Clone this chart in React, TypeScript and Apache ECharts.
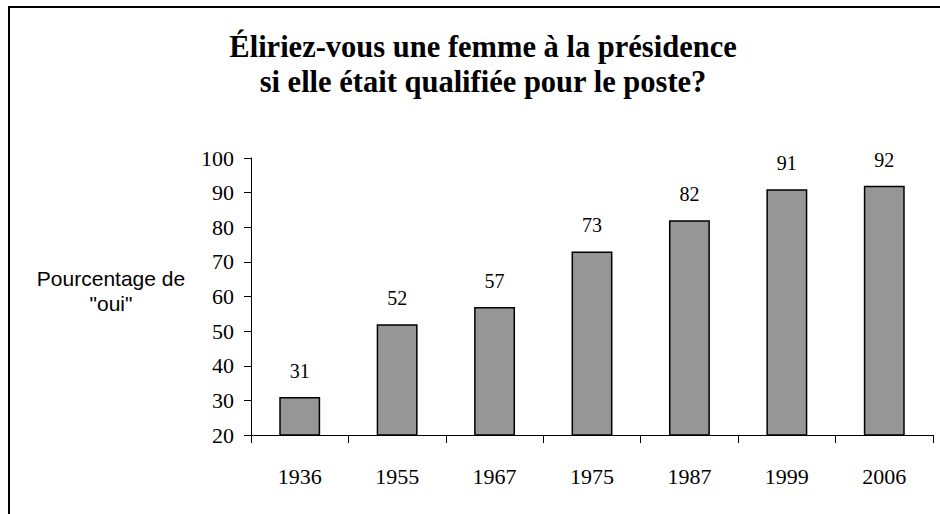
import React, { useEffect, useRef } from "react";
import * as echarts from "echarts";

const categories = ["1936", "1955", "1967", "1975", "1987", "1999", "2006"];
const values = [31, 52, 57, 73, 82, 91, 92];
const titleLines = ["Éliriez-vous une femme à la présidence", "si elle était qualifiée pour le poste?"];
const yAxisNameLines = ["Pourcentage de", "\"oui\""];

export default function App() {
  const ref = useRef<HTMLDivElement>(null);
  useEffect(() => {
    if (!ref.current) return;
    const chart = echarts.init(ref.current, null, { renderer: "svg" });
    const serif = "Times New Roman";
    const titleText = (t: string, y: number) => ({
      type: "text",
      x: 483,
      y,
      style: {
        text: t,
        fontFamily: serif,
        fontWeight: "bold",
        fontSize: 30.5,
        fill: "#000",
        align: "center",
        verticalAlign: "middle",
      },
    });
    chart.setOption({
      animation: false,
      grid: { left: 251, top: 158, right: 7, bottom: 79 },
      graphic: [
        {
          type: "line",
          shape: { x1: 9, y1: 7, x2: 9, y2: 520 },
          style: { stroke: "#000", lineWidth: 2 },
          z: 101,
          silent: true,
        },
        {
          type: "line",
          shape: { x1: 8, y1: 7, x2: 940, y2: 7 },
          style: { stroke: "#000", lineWidth: 2 },
          z: 101,
          silent: true,
        },
        titleText(titleLines[0], 47),
        titleText(titleLines[1], 82),
        {
          type: "text",
          x: 111,
          y: 291,
          style: {
            text: yAxisNameLines.join("\n"),
            fontFamily: "Arial",
            fontSize: 21,
            fill: "#000",
            align: "center",
            verticalAlign: "middle",
            lineHeight: 25,
          },
        },
      ],
      xAxis: {
        type: "category",
        data: categories,
        axisLine: { lineStyle: { color: "#000", width: 1 } },
        axisTick: { show: true, length: 8, alignWithLabel: false, lineStyle: { color: "#000" } },
        axisLabel: { color: "#000", fontFamily: serif, fontSize: 22, margin: 30 },
      },
      yAxis: {
        type: "value",
        min: 20,
        max: 100,
        interval: 10,
        axisLine: { show: true, lineStyle: { color: "#000", width: 1 } },
        axisTick: { show: true, length: 7, lineStyle: { color: "#000" } },
        splitLine: { show: false },
        axisLabel: { color: "#000", fontFamily: serif, fontSize: 22, margin: 17 },
      },
      series: [
        {
          type: "bar",
          data: values,
          barWidth: "42%",
          itemStyle: { color: "#969696", borderColor: "#000", borderWidth: 1.5 },
          label: {
            show: true,
            position: "top",
            distance: 16,
            color: "#000",
            fontFamily: serif,
            fontSize: 20,
          },
        },
      ],
    });
    return () => chart.dispose();
  }, []);
  return (
    <div
      ref={ref}
      style={{ width: 940, height: 514, position: "absolute", left: 0, top: 0, background: "#fff", overflow: "hidden" }}
    />
  );
}
